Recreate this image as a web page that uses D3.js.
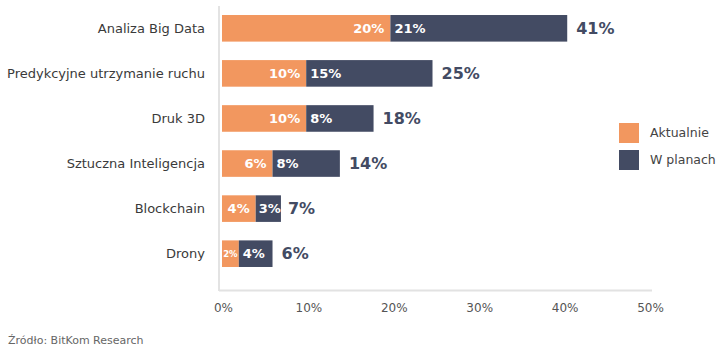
<!DOCTYPE html>
<html><head><meta charset="utf-8">
<script src="https://cdn.jsdelivr.net/npm/d3@7"></script>
<style>body{margin:0;background:#fff;} svg{display:block;} text{font-family:"DejaVu Sans",sans-serif;}</style>
</head><body>
<svg id="c" width="727" height="355"></svg>
<script>
const categories = ["Analiza Big Data","Predykcyjne utrzymanie ruchu","Druk 3D","Sztuczna Inteligencja","Blockchain","Drony"];
const aktualnie = [20,10,10,6,4,2];
const wPlanach = [21,15,8,8,3,4];
const totals = [41,25,18,14,7,6];
const ticks = [0,10,20,30,40,50];
const seriesNames = ["Aktualnie","W planach"];
const colors = ["#F2975F","#434B63"];

const svg = d3.select("#c");
const x = d3.scaleLinear().domain([0,50]).range([222,643]);
const xAxisScale = d3.scaleLinear().domain([0,50]).range([223,650]);
const y = d3.scaleBand().domain(categories).range([6,276]).paddingInner(0.41).paddingOuter(0.2);

// axis lines
svg.append("line").attr("x1",219).attr("x2",219).attr("y1",6).attr("y2",291).attr("stroke","#d0d0d0").attr("stroke-width",1.2);
svg.append("line").attr("x1",219).attr("x2",652).attr("y1",290.5).attr("y2",290.5).attr("stroke","#e2e2e2").attr("stroke-width",2);

// x axis tick labels
const ax = svg.append("g").attr("transform","translate(0,300)")
  .call(d3.axisBottom(xAxisScale).tickValues(ticks).tickSize(0).tickFormat(d=>d+"%"));
ax.select(".domain").remove();
ax.selectAll("text").attr("font-size",12).attr("fill","#555").attr("font-family","DejaVu Sans, sans-serif").attr("dy","0.71em");

// category labels
svg.append("g").selectAll("text").data(categories).join("text")
  .attr("x",205).attr("y",d=>y(d)+y.bandwidth()/2).attr("dy","0.35em")
  .attr("text-anchor","end").attr("font-size",13).attr("fill","#3a3a3a").text(d=>d);

const rows = categories.map((c,i)=>({c,a:aktualnie[i],p:wPlanach[i],t:totals[i]}));
const g = svg.append("g");
g.selectAll("rect.a").data(rows).join("rect").attr("class","a")
  .attr("x",x(0)).attr("y",d=>y(d.c)).attr("width",d=>x(d.a)-x(0)).attr("height",y.bandwidth()).attr("fill",colors[0]);
g.selectAll("rect.p").data(rows).join("rect").attr("class","p")
  .attr("x",d=>x(d.a)).attr("y",d=>y(d.c)).attr("width",d=>x(d.a+d.p)-x(d.a)).attr("height",y.bandwidth()).attr("fill",colors[1]);
// orange labels
g.selectAll("text.a").data(rows).join("text").attr("class","a")
  .attr("x",d=>d.a<3?(x(0)+x(d.a))/2:x(d.a)-6).attr("y",d=>y(d.c)+y.bandwidth()/2).attr("dy","0.36em")
  .attr("text-anchor",d=>d.a<3?"middle":"end").attr("font-weight","bold").attr("font-size",d=>d.a<3?8.5:13).attr("fill","#fff").text(d=>d.a+"%");
g.selectAll("text.p").data(rows).join("text").attr("class","p")
  .attr("x",d=>x(d.a)+(d.p<4?3:4)).attr("y",d=>y(d.c)+y.bandwidth()/2).attr("dy","0.36em")
  .attr("text-anchor","start").attr("font-weight","bold").attr("font-size",13).attr("fill","#fff").text(d=>d.p+"%");
g.selectAll("text.t").data(rows).join("text").attr("class","t")
  .attr("x",d=>x(d.a+d.p)+(d.p<4?7:9)).attr("y",d=>y(d.c)+y.bandwidth()/2).attr("dy","0.36em")
  .attr("text-anchor","start").attr("font-weight","bold").attr("font-size",16).attr("fill","#434B63").text(d=>d.t+"%");

// legend
const lg = svg.append("g");
seriesNames.forEach((s,i)=>{
  lg.append("rect").attr("x",619).attr("y",123+i*27).attr("width",20).attr("height",20).attr("fill",colors[i]);
  lg.append("text").attr("x",650).attr("y",133+i*27).attr("dy","0.35em").attr("font-size",12.5).attr("fill","#444").text(s);
});

svg.append("text").attr("x",8).attr("y",340).attr("dy","0.35em").attr("font-size",11).attr("fill","#666").text("Źródło: BitKom Research");
</script>
</body></html>
